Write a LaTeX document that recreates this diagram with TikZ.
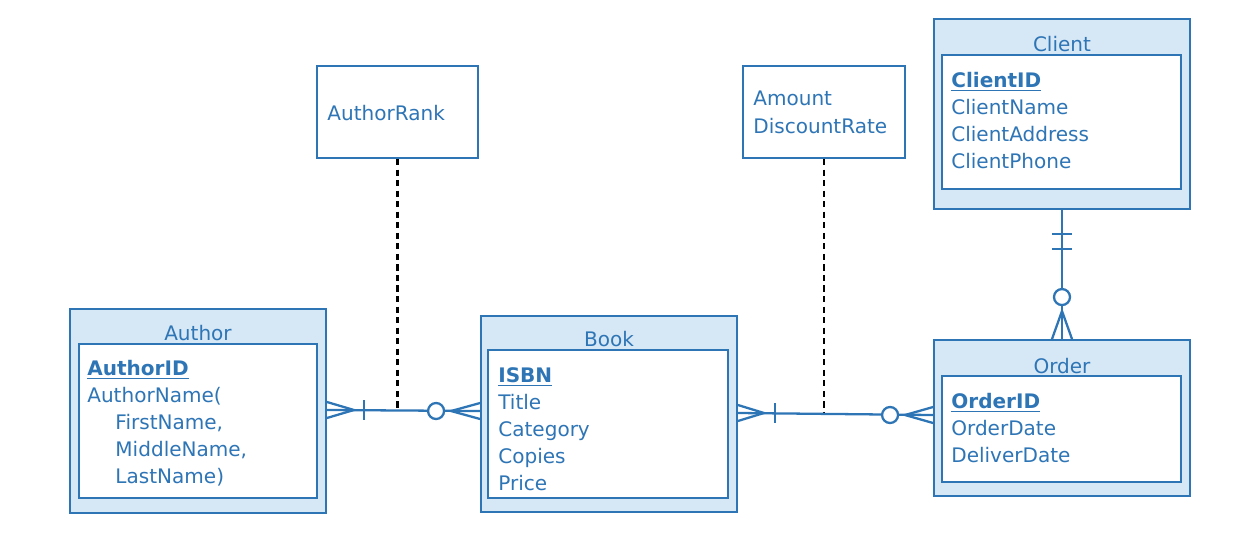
\documentclass[tikz,border=0pt]{standalone}
\usepackage{fontspec}
\setmainfont{DejaVu Sans}
\usetikzlibrary{positioning}
\definecolor{erblue}{RGB}{46,117,182}
\definecolor{erfill}{RGB}{214,231,245}

\begin{document}
\begin{tikzpicture}[x=0.02cm, y=-0.02cm, every node/.style={font=\fontsize{11.4}{15.4}\selectfont, text=erblue},
    entity/.style={draw=erblue, fill=erfill, line width=1.1pt, inner sep=0pt},
    attrbox/.style={draw=erblue, fill=white, line width=1.1pt, inner sep=0pt},
    attrtext/.style={anchor=north west, align=left, inner sep=0pt},
    rel/.style={draw=erblue, line width=1.3pt},
    assoc/.style={draw=black, line width=1.2pt, dash pattern=on 3.5pt off 2.5pt}]
        \useasboundingbox (0,0) rectangle (1252,534);

        % Entities
        \node[entity, minimum width=5.12cm, minimum height=4.08cm] (author) at (198,411) {};
        \node[attrbox, minimum width=4.76cm, minimum height=3.08cm] (authorbox) at (198,421) {};
        \node[inner sep=0pt] (authortitle) at (198,333) {Author};
        \node[attrtext] (authorattr) at (87,360) {\underline{\textbf{AuthorID}}\\AuthorName(\\\hspace*{16pt}FirstName,\\\hspace*{16pt}MiddleName,\\\hspace*{16pt}LastName)};

        \node[entity, minimum width=5.12cm, minimum height=3.92cm] (book) at (609,414) {};
        \node[attrbox, minimum width=4.80cm, minimum height=2.96cm] (bookbox) at (608,424) {};
        \node[inner sep=0pt] (booktitle) at (609,339) {Book};
        \node[attrtext] (bookattr) at (498,367) {\underline{\textbf{ISBN}}\\Title\\Category\\Copies\\Price};

        \node[entity, minimum width=5.12cm, minimum height=3.80cm] (client) at (1062,114) {};
        \node[attrbox, minimum width=4.78cm, minimum height=2.68cm] (clientbox) at (1061.5,122) {};
        \node[inner sep=0pt] (clienttitle) at (1062,44) {Client};
        \node[attrtext] (clientattr) at (951,72) {\underline{\textbf{ClientID}}\\ClientName\\ClientAddress\\ClientPhone};

        \node[entity, minimum width=5.12cm, minimum height=3.12cm] (order) at (1062,418) {};
        \node[attrbox, minimum width=4.78cm, minimum height=2.12cm] (orderbox) at (1061.5,429) {};
        \node[inner sep=0pt] (ordertitle) at (1062,366) {Order};
        \node[attrtext] (orderattr) at (951,393) {\underline{\textbf{OrderID}}\\OrderDate\\DeliverDate};

        % Relationship attributes
        \node[attrbox, minimum width=3.22cm, minimum height=1.84cm] (rank) at (397.5,112) {};
        \node[attrtext] (ranktext) at (327,105) {AuthorRank};
        \node[attrbox, minimum width=3.24cm, minimum height=1.84cm] (amount) at (824,112) {};
        \node[attrtext] (amounttext) at (753,91) {Amount\\DiscountRate};

        % Author -- Book
        \coordinate (abL) at ([yshift=0.57pt]author.east);
        \coordinate (abR) at ([yshift=1.7pt]book.west);
        \draw[assoc] (rank.south) -- (rank.south |- abL);
        \draw[rel] (abL) -- (abR);
        \draw[rel] (abL) ++(0,-8) -- ++(27,8) -- ++(-27,8);
        \draw[rel] (abL) ++(37,-10) -- ++(0,20);
        \draw[rel] (abR) ++(0,-8) -- ++(-29,8) -- ++(29,8);
        \draw[rel, fill=white] (abR) ++(-44,0) circle (0.16cm);

        % Book -- Order
        \coordinate (boL) at ([yshift=0.57pt]book.east);
        \coordinate (boR) at ([yshift=1.7pt]order.west);
        \draw[assoc] (amount.south) -- (amount.south |- boL);
        \draw[rel] (boL) -- (boR);
        \draw[rel] (boL) ++(0,-8) -- ++(26,8) -- ++(-26,8);
        \draw[rel] (boL) ++(37,-10) -- ++(0,20);
        \draw[rel] (boR) ++(0,-8) -- ++(-28,8) -- ++(28,8);
        \draw[rel, fill=white] (boR) ++(-43,0) circle (0.16cm);

        % Client -- Order
        \draw[rel] (client.south) -- (order.north);
        \draw[rel] (client.south) ++(-10,24) -- ++(20,0);
        \draw[rel] (client.south) ++(-10,39) -- ++(20,0);
        \draw[rel] (order.north) ++(-10,0) -- ++(10,-28) -- ++(10,28);
        \draw[rel, fill=white] (order.north) ++(0,-42) circle (0.16cm);
      \end{tikzpicture}
\end{document}
